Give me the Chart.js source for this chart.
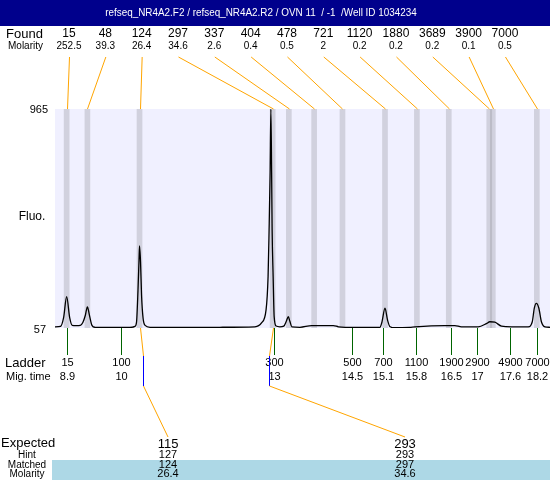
<!DOCTYPE html>
<html>
<head>
<meta charset="utf-8">
<script src="https://cdn.jsdelivr.net/npm/chart.js@4"></script>
<style>
  html, body { margin: 0; padding: 0; background: #fff; }
</style>
</head>
<body>
<canvas id="grafica" width="550" height="480"></canvas>
<script>
const titulo = 'refseq_NR4A2.F2 / refseq_NR4A2.R2 / OVN 11  / -1  /Well ID 1034234';

// picos encontrados (tamaño, molaridad, tiempo de migración)
const encontrados = ['15', '48', '124', '297', '337', '404', '478', '721', '1120', '1880', '3689', '3900', '7000'];
const molaridad = ['252.5', '39.3', '26.4', '34.6', '2.6', '0.4', '0.5', '2', '0.2', '0.2', '0.2', '0.1', '0.5'];
const tiempoPico = [8.91, 9.32, 10.35, 12.98, 13.30, 13.80, 14.36, 15.20, 15.83, 16.46, 17.26, 17.33, 18.20];

// escalera
const escalera = ['15', '100', '300', '500', '700', '1100', '1900', '2900', '4900', '7000'];
const tiempoEscalera = [8.91, 9.99, 13.01, 14.54, 15.16, 15.82, 16.50, 17.02, 17.66, 18.21];
const etiquetaMig = ['8.9', '10', '13', '14.5', '15.1', '15.8', '16.5', '17', '17.6', '18.2'];

// esperados / emparejados
const esperado = ['115', '293'];
const pista = ['127', '293'];
const emparejado = ['124', '297'];
const molEmparejado = ['26.4', '34.6'];
const tiempoEsperado = [10.41, 12.91];
const indiceEmparejado = [2, 3];

// trazo de fluorescencia (tiempo, fluo)
const trazoT = [8.68, 8.79, 8.85, 8.91, 8.97, 9.02, 9.10, 9.18, 9.23, 9.28, 9.32, 9.36, 9.41, 9.47, 9.77,
  10.16, 10.26, 10.29, 10.32, 10.34, 10.35, 10.37, 10.39, 10.42, 10.46, 10.56, 11.55, 11.94,
  12.63, 12.76, 12.85, 12.89, 12.91, 12.93, 12.945, 12.96, 12.97, 12.99, 13.01, 13.05, 13.12,
  13.20, 13.25, 13.29, 13.32, 13.36, 13.52, 13.75, 14.18, 14.28, 14.41, 15.10, 15.14, 15.20,
  15.25, 15.30, 15.40, 15.69, 15.79, 16.38, 16.58, 16.71, 17.04, 17.21, 17.27, 17.37, 17.50,
  17.70, 18.03, 18.11, 18.15, 18.19, 18.24, 18.29, 18.36, 18.46];
const trazoF = [62, 64, 100, 187, 100, 68, 67, 68, 80, 110, 145, 110, 68, 60, 59,
  59, 64, 80, 215, 339, 397, 331, 194, 98, 68, 60, 59, 60,
  62, 78, 132, 270, 463, 700, 965, 700, 463, 270, 104, 65, 62,
  65, 85, 104, 85, 62, 60, 67, 67, 62, 60, 60, 82, 139,
  90, 62, 58, 60, 62, 67, 67, 62, 62, 76, 83, 81, 65,
  62, 62, 83, 139, 159, 139, 83, 62, 60];

const fluoMin = 57, fluoMax = 965;
const tMin = 8.68, tMax = 18.46;

const NARANJA = '#FFA500';
const FUENTE = '"Liberation Sans", Arial, sans-serif';

function texto(ctx, s, x, y, tam, alin, sx, color) {
    ctx.save();
    ctx.font = tam + 'px ' + FUENTE;
    ctx.fillStyle = color || '#000';
    ctx.textAlign = alin || 'center';
    ctx.textBaseline = 'middle';
    ctx.translate(x, y);
    ctx.scale(sx || 1, 1);
    ctx.fillText(s, 0, 0);
    ctx.restore();
}

function linea(ctx, x1, y1, x2, y2, color) {
    ctx.strokeStyle = color;
    ctx.beginPath();
    ctx.moveTo(x1, y1);
    ctx.lineTo(x2, y2);
    ctx.stroke();
}

const decorado = {
    id: 'decorado',
    beforeDraw(chart) {
        const { ctx, chartArea: a } = chart;
        ctx.save();
        ctx.fillStyle = '#fff';
        ctx.fillRect(0, 0, chart.width, chart.height);
        ctx.fillStyle = '#F0F0FF';
        ctx.fillRect(a.left, a.top, a.right - a.left, a.bottom - a.top);
        ctx.restore();
    },
    afterDraw(chart) {
        const { ctx, chartArea: a } = chart;
        const x = chart.scales.x;
        ctx.save();
        ctx.lineWidth = 1;

        // barra de título
        ctx.fillStyle = '#00008C';
        ctx.fillRect(0, 0, chart.width, 26);
        texto(ctx, titulo, 261, 13, 11, 'center', 0.9, '#fff');

        // fila "Found" + conectores naranjas hacia las bandas
        texto(ctx, 'Found', 6, 34, 13, 'left');
        texto(ctx, 'Molarity', 8, 46, 10, 'left');
        encontrados.forEach((e, i) => {
            const xl = 69 + 36.33 * i;
            texto(ctx, e, xl, 34, 12);
            texto(ctx, molaridad[i], xl, 46, 10);
            linea(ctx, xl + 0.5, 57, Math.round(x.getPixelForValue(tiempoPico[i])) + 0.5, a.top, NARANJA);
        });

        // eje y
        texto(ctx, String(fluoMax), 48, 110, 11, 'right');
        texto(ctx, String(fluoMin), 46, 330, 11, 'right');
        texto(ctx, 'Fluo.', 32, 217, 12);

        // escalera
        texto(ctx, 'Ladder', 5, 363, 13, 'left');
        texto(ctx, 'Mig. time', 6, 377, 11, 'left');
        escalera.forEach((e, i) => {
            const xp = Math.round(x.getPixelForValue(tiempoEscalera[i])) + 0.5;
            linea(ctx, xp, a.bottom, xp, 355, '#006400');
            texto(ctx, e, xp, 363, 11);
            texto(ctx, etiquetaMig[i], xp, 377, 11);
        });

        // conectores de los emparejados
        const xAbajo = [168, 405];
        esperado.forEach((e, j) => {
            const xb = Math.round(x.getPixelForValue(tiempoPico[indiceEmparejado[j]])) + 0.5;
            const xe = Math.round(x.getPixelForValue(tiempoEsperado[j])) + 0.5;
            linea(ctx, xb, a.bottom, xe, 356, NARANJA);
            linea(ctx, xe, 356, xe, 386, '#0000FF');
            linea(ctx, xe, 386, xAbajo[j], 437, NARANJA);
        });

        // tabla inferior
        ctx.fillStyle = '#ADD8E6';
        ctx.fillRect(52, 460, chart.width - 52, 20);
        texto(ctx, 'Expected', 1, 443, 13, 'left');
        texto(ctx, 'Hint', 27, 455, 10);
        texto(ctx, 'Matched', 27, 465, 10);
        texto(ctx, 'Molarity', 27, 474, 10);
        esperado.forEach((e, j) => {
            texto(ctx, e, xAbajo[j], 444, 13);
            texto(ctx, pista[j], xAbajo[j], 455, 11);
            texto(ctx, emparejado[j], xAbajo[j], 465, 11);
            texto(ctx, molEmparejado[j], xAbajo[j], 474, 11);
        });
        ctx.restore();
    }
};

const ctx = document.getElementById('grafica').getContext('2d');
new Chart(ctx, {
    type: 'line',
    data: {
        datasets: [
            {
                type: 'line',
                data: trazoT.map((t, i) => ({ x: t, y: trazoF[i] })),
                borderColor: '#000',
                borderWidth: 1.3,
                pointRadius: 0,
                cubicInterpolationMode: 'monotone',
                fill: false,
                order: 1
            },
            {
                type: 'bar',
                data: tiempoPico.map(t => ({ x: t, y: [fluoMin, fluoMax] })),
                backgroundColor: 'rgba(140,140,145,0.3)',
                borderWidth: 0,
                barThickness: 5,
                grouped: false,
                order: 2
            }
        ]
    },
    options: {
        responsive: false,
        animation: false,
        layout: { padding: { left: 55, right: 0, top: 109, bottom: 152 } },
        scales: {
            x: { type: 'linear', min: tMin, max: tMax, offset: false, display: false },
            y: { min: fluoMin, max: fluoMax, display: false }
        },
        plugins: { legend: { display: false }, tooltip: { enabled: false } }
    },
    plugins: [decorado]
});
</script>
</body>
</html>
